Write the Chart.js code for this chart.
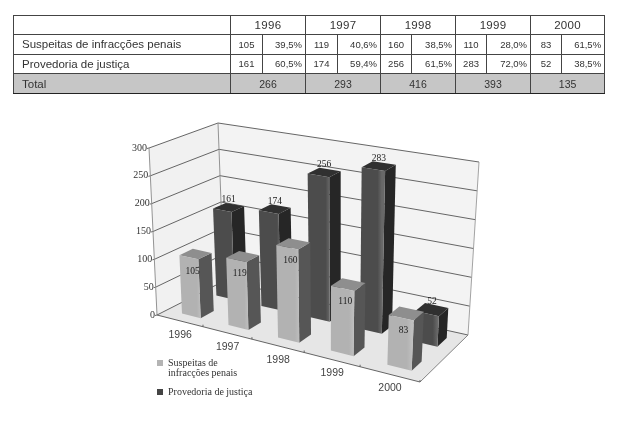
<!DOCTYPE html>
<html><head><meta charset="utf-8">
<script src="https://cdn.jsdelivr.net/npm/chart.js@4"></script>
<style>
html,body{margin:0;padding:0;background:#fff;width:620px;height:422px;overflow:hidden}
#wrap{position:relative;width:620px;height:422px}
canvas{position:absolute;left:0;top:0}
table{position:absolute;left:13px;top:15px;width:591px;height:78px;border-collapse:collapse;table-layout:fixed;font-family:"Liberation Sans",Arial,sans-serif;color:#333;z-index:2}
td{border:1px solid #444;padding:0;text-align:center;font-size:9.5px;box-sizing:border-box}
td.y{font-size:11.5px;letter-spacing:.3px}
td.n{font-size:11.5px;text-align:left;padding-left:8px}
td.p{text-align:right;padding-right:3px}
td.s{border-left:1.6px solid #222}
tr.t td{background:#c6c6c6;border-top:1.6px solid #222;border-bottom:1.6px solid #222;font-size:10.5px}
tr.t td.n{font-size:11.5px}
</style></head>
<body><div id="wrap"><table id="tb"></table><canvas id="c" width="620" height="422"></canvas></div>
<script>
const categories=["1996","1997","1998","1999","2000"];
const suspeitas=[105,119,160,110,83];
const provedoria=[161,174,256,283,52];
const suspeitasPct=["39,5%","40,6%","38,5%","28,0%","61,5%"];
const provedoriaPct=["60,5%","59,4%","61,5%","72,0%","38,5%"];
const totals=[266,293,416,393,135];
const seriesNames=["Suspeitas de infracções penais","Provedoria de justiça"];
const legendLines=[["Suspeitas de","infracções penais"],["Provedoria de justiça"]];

// table
let h='<colgroup><col style="width:217px">';
[[32,43],[32,43],[31,44],[31,44],[31,43]].forEach(p=>h+=`<col style="width:${p[0]}px"><col style="width:${p[1]}px">`);
h+='</colgroup><tr style="height:19px"><td></td>'+categories.map(c=>`<td class="y s" colspan="2">${c}</td>`).join('')+'</tr>';
[[seriesNames[0],suspeitas,suspeitasPct],[seriesNames[1],provedoria,provedoriaPct]].forEach(r=>{
 h+=`<tr style="height:19.5px"><td class="n">${r[0]}</td>`+r[1].map((v,i)=>`<td class="s">${v}</td><td class="p">${r[2][i]}</td>`).join('')+'</tr>';
});
h+='<tr class="t" style="height:20px"><td class="n">Total</td>'+totals.map(v=>`<td class="s" colspan="2">${v}</td>`).join('')+'</tr>';
document.getElementById('tb').innerHTML=h;

// projection of the unit box (u along years, d depth, h height) on to the page
function quadMap(q){
 const [p0,p1,p2,p3]=q;
 const dx1=p1[0]-p2[0],dx2=p3[0]-p2[0],sx=p0[0]-p1[0]+p2[0]-p3[0];
 const dy1=p1[1]-p2[1],dy2=p3[1]-p2[1],sy=p0[1]-p1[1]+p2[1]-p3[1];
 const den=dx1*dy2-dx2*dy1;
 const g=(sx*dy2-dx2*sy)/den,k=(dx1*sy-sx*dy1)/den;
 const a=p1[0]-p0[0]+g*p1[0],b=p3[0]-p0[0]+k*p3[0],c=p0[0];
 const d=p1[1]-p0[1]+g*p1[1],e=p3[1]-p0[1]+k*p3[1],f=p0[1];
 return (u,v)=>{const w=g*u+k*v+1;return [(a*u+b*v+c)/w,(d*u+e*v+f)/w];};
}
const floorMap=quadMap([[157,315],[420,382],[468,335],[224,281]]);
const topMap=quadMap([[149,148],[429,198],[479,162],[218,123]]);
function P(u,d,hh){const a=floorMap(u,d),b=topMap(u,d);return [a[0]+(b[0]-a[0])*hh,a[1]+(b[1]-a[1])*hh];}
function poly(ctx,pts,fill,stroke){ctx.beginPath();pts.forEach((p,i)=>i?ctx.lineTo(p[0],p[1]):ctx.moveTo(p[0],p[1]));ctx.closePath();if(fill){ctx.fillStyle=fill;ctx.fill();}if(stroke){ctx.strokeStyle=stroke;ctx.stroke();}}
function seg(ctx,a,b,col,w){ctx.beginPath();ctx.moveTo(a[0],a[1]);ctx.lineTo(b[0],b[1]);ctx.strokeStyle=col;ctx.lineWidth=w||1;ctx.stroke();}

const rows=[[0.14,0.33],[0.65,0.85]];
const uShift=0.007;
const looks=[
 {f0:'#b2b2b2',f1:'#bebebe',side:'#565656',top:'#8e8e8e',lab:[-3,17]},
 {f0:'#4c4c4c',f1:'#686868',side:'#262626',top:'#303030',lab:[0,-8]}
];

const box3d={id:'box3d',
 beforeDatasetsDraw(chart){
  const ctx=chart.ctx,a=chart.chartArea,xs=chart.scales.x,ys=chart.scales.y;
  const U=px=>(px-a.left)/a.width,H=py=>(a.bottom-py)/a.height;
  ctx.save();
  // walls and floor
  poly(ctx,[P(0,0,0),P(0,1,0),P(0,1,1),P(0,0,1)],'#f1f1f1');
  poly(ctx,[P(0,1,0),P(1,1,0),P(1,1,1),P(0,1,1)],'#f3f3f3');
  poly(ctx,[P(0,0,0),P(1,0,0),P(1,1,0),P(0,1,0)],'#e6e6e6');
  // grid and y ticks
  ctx.font='10px "Liberation Serif"';ctx.textAlign='right';ctx.textBaseline='middle';
  ys.ticks.forEach(t=>{
   const hh=H(ys.getPixelForValue(t.value));
   const A=P(0,0,hh),B=P(0,1,hh),C=P(1,1,hh);
   seg(ctx,A,B,'#555',0.9);seg(ctx,B,C,'#555',0.9);
   seg(ctx,A,[A[0]-2,A[1]+0.5],'#555',0.9);
   ctx.fillStyle='#333';ctx.fillText(String(t.value),A[0]-2,A[1]);
  });
  seg(ctx,P(0,0,0),P(0,0,1),'#888',0.9);
  seg(ctx,P(0,1,0),P(0,1,1),'#888',0.9);
  seg(ctx,P(1,1,0),P(1,1,1),'#999',0.9);
  seg(ctx,P(0,0,0),P(1,0,0),'#555',0.9);
  seg(ctx,P(1,0,0),P(1,1,0),'#777',0.9);
  // x ticks and labels
  ctx.font='10.5px "Liberation Sans"';ctx.textAlign='center';ctx.fillStyle='#444';
  const n=xs.getLabels().length;
  xs.getLabels().forEach((lab,i)=>{
   const c=U(xs.getPixelForValue(i));
   const t=P(c+0.5/n,0,0);
   seg(ctx,t,[t[0],t[1]-2],'#555',0.9);
   const q=P(c,0,0);
   ctx.fillStyle='#444';ctx.fillText(lab,q[0]+0.5,q[1]+14);
  });
  // bars, back row first
  for(let ds=1;ds>=0;ds--){
   const meta=chart.getDatasetMeta(ds),L=looks[ds],[d0,d1]=rows[ds];
   meta.data.forEach(el=>{
    const u0=U(el.x-el.width/2)+uShift,u1=U(el.x+el.width/2)+uShift,hh=H(el.y);
    const fl=P(u0,d0,0),fr=P(u1,d0,0),tl=P(u0,d0,hh),tr=P(u1,d0,hh);
    const g=ctx.createLinearGradient(fl[0],0,fr[0],0);
    g.addColorStop(0,L.f0);g.addColorStop(.8,L.f0);g.addColorStop(1,L.f1);
    poly(ctx,[P(u1,d0,0),P(u1,d1,0),P(u1,d1,hh),P(u1,d0,hh)],L.side);
    poly(ctx,[tl,tr,P(u1,d1,hh),P(u0,d1,hh)],L.top);
    poly(ctx,[fl,fr,tr,tl],g);
   });
  }
  // value labels
  ctx.font='9.5px "Liberation Serif"';ctx.textAlign='center';ctx.textBaseline='middle';ctx.fillStyle='#1c1c1c';
  for(let ds=1;ds>=0;ds--){
   const meta=chart.getDatasetMeta(ds),L=looks[ds],[d0,d1]=rows[ds],vals=chart.data.datasets[ds].data;
   meta.data.forEach((el,i)=>{
    const p=P(U(el.x)+uShift,(d0+d1)/2,H(el.y));
    ctx.fillText(String(vals[i]),p[0]+L.lab[0],p[1]+L.lab[1]);
   });
  }
  // legend
  ctx.font='10px "Liberation Serif"';ctx.textAlign='left';
  const ly=[363,392];
  legendLines.forEach((lines,i)=>{
   ctx.fillStyle=i?'#444':'#b4b4b4';ctx.fillRect(157,ly[i]-3,6,6);
   ctx.fillStyle='#333';
   lines.forEach((s,k)=>ctx.fillText(s,168,ly[i]+k*10.5));
  });
  ctx.restore();
 }
};

new Chart(document.getElementById('c'),{
 type:'bar',
 data:{labels:categories,datasets:[
  {label:seriesNames[0],data:suspeitas,backgroundColor:'transparent',borderWidth:0,grouped:false,categoryPercentage:1,barPercentage:0.41},
  {label:seriesNames[1],data:provedoria,backgroundColor:'transparent',borderWidth:0,grouped:false,categoryPercentage:1,barPercentage:0.41}
 ]},
 options:{responsive:false,animation:false,
  layout:{padding:0},
  plugins:{legend:{display:false},tooltip:{enabled:false},title:{display:false}},
  scales:{
   x:{display:false,type:'category',offset:true},
   y:{display:false,min:0,max:300,ticks:{stepSize:50}}
  }},
 plugins:[box3d]
});
</script></body></html>
